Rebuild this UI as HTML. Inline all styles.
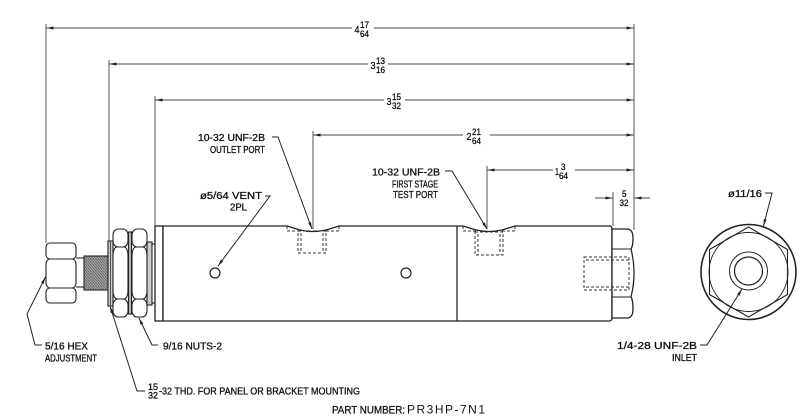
<!DOCTYPE html>
<html><head><meta charset="utf-8"><style>
html,body{margin:0;padding:0;background:#fff;}
svg{display:block;}
text{font-family:"Liberation Sans",sans-serif;fill:#111;}
.b text{stroke:#111;stroke-width:0.3;}
</style></head><body>
<svg width="800" height="418" viewBox="0 0 800 418" xmlns="http://www.w3.org/2000/svg">
<defs>
<marker id="a" markerUnits="userSpaceOnUse" markerWidth="8" markerHeight="4" refX="7" refY="1.5" orient="auto"><path d="M0,0 L7,1.5 L0,3 z" fill="#222"/></marker>
<pattern id="thr" width="2.5" height="3" patternUnits="userSpaceOnUse"><rect width="2.5" height="3" fill="#a8a8a8"/><line x1="0" y1="0" x2="2.5" y2="3" stroke="#555" stroke-width="0.8"/></pattern>
</defs>
<rect width="800" height="418" fill="#fff"/>

<!-- extension lines -->
<g stroke="#555" stroke-width="1" fill="none">
<line x1="46" y1="24" x2="46" y2="243"/>
<line x1="109" y1="60" x2="109" y2="241"/>
<line x1="155" y1="96" x2="155" y2="226"/>
<line x1="313" y1="131" x2="313" y2="229"/>
<line x1="487" y1="166" x2="487" y2="229"/>
<line x1="613" y1="192" x2="613" y2="226"/>
<line x1="634" y1="24" x2="634" y2="230"/>
</g>

<!-- dimension lines -->
<g stroke="#444" stroke-width="1" fill="none" marker-end="url(#a)">
<line x1="352" y1="28" x2="46.5" y2="28"/>
<line x1="374" y1="28" x2="633.5" y2="28"/>
<line x1="368" y1="64" x2="109.5" y2="64"/>
<line x1="388" y1="64" x2="633.5" y2="64"/>
<line x1="384" y1="100" x2="155.5" y2="100"/>
<line x1="405" y1="100" x2="633.5" y2="100"/>
<line x1="463" y1="135" x2="313.5" y2="135"/>
<line x1="490" y1="135" x2="633.5" y2="135"/>
<line x1="553" y1="170" x2="487.5" y2="170"/>
<line x1="575" y1="170" x2="633.5" y2="170"/>
<line x1="595" y1="198" x2="612.5" y2="198"/>
<line x1="650" y1="198" x2="634.5" y2="198"/>
</g>

<!-- dimension texts -->
<g class="b">
<text x="354.5" y="33" font-size="10" textLength="5" lengthAdjust="spacingAndGlyphs">4</text>
<text x="360" y="28" font-size="9" textLength="9" lengthAdjust="spacingAndGlyphs">17</text>
<text x="360" y="37" font-size="9" textLength="9" lengthAdjust="spacingAndGlyphs">64</text>

<text x="370.5" y="69" font-size="10" textLength="5" lengthAdjust="spacingAndGlyphs">3</text>
<text x="376" y="64" font-size="9" textLength="9" lengthAdjust="spacingAndGlyphs">13</text>
<text x="376" y="73" font-size="9" textLength="9" lengthAdjust="spacingAndGlyphs">16</text>

<text x="386.5" y="105" font-size="10" textLength="5" lengthAdjust="spacingAndGlyphs">3</text>
<text x="392" y="100" font-size="9" textLength="9" lengthAdjust="spacingAndGlyphs">15</text>
<text x="392" y="109" font-size="9" textLength="9" lengthAdjust="spacingAndGlyphs">32</text>

<text x="466.5" y="140" font-size="10" textLength="5" lengthAdjust="spacingAndGlyphs">2</text>
<text x="472" y="135" font-size="9" textLength="9" lengthAdjust="spacingAndGlyphs">21</text>
<text x="472" y="144" font-size="9" textLength="9" lengthAdjust="spacingAndGlyphs">64</text>

<text x="555" y="175" font-size="10" textLength="4" lengthAdjust="spacingAndGlyphs">1</text>
<text x="561" y="170" font-size="9" textLength="4.5" lengthAdjust="spacingAndGlyphs">3</text>
<text x="559" y="179" font-size="9" textLength="9" lengthAdjust="spacingAndGlyphs">64</text>

<text x="622" y="197" font-size="9" textLength="4.5" lengthAdjust="spacingAndGlyphs">5</text>
<text x="619.5" y="206" font-size="9" textLength="9" lengthAdjust="spacingAndGlyphs">32</text>
</g>

<!-- body -->
<g stroke="#222" stroke-width="1.3" fill="#fff">
<rect x="155" y="226" width="8" height="95"/>
<path d="M163,226 H287 L300,230 Q312,233 326,230 L339,226 H463 L476,230 Q489,233 502,230 L515,226 H610 Q612,226 612,229 V318 Q612,321 609,321 H163 Z"/>
<line x1="457" y1="226" x2="457" y2="321"/>
<path d="M612,229 H628 Q633,230 633,238 Q633,246 631,249 Q634,261 634,273 Q634,285 631,297 Q633,300 633,309 Q633,317 628,318 H612 Z"/>
<line x1="612" y1="249" x2="631" y2="249" stroke-width="1"/>
<line x1="612" y1="297" x2="631" y2="297" stroke-width="1"/>
<circle cx="215" cy="273" r="5" stroke-width="1.2"/>
<circle cx="406" cy="273" r="5" stroke-width="1.2"/>
</g>

<!-- dashed hidden lines -->
<g stroke="#333" stroke-width="1" fill="none" stroke-dasharray="3,2">
<path d="M287,226 V231 H300"/>
<path d="M339,226 V231 H326"/>
<rect x="298" y="231" width="28" height="22"/>
<line x1="301" y1="233" x2="301" y2="253"/>
<line x1="323" y1="233" x2="323" y2="253"/>
<path d="M463,226 V231 H476"/>
<path d="M515,226 V231 H502"/>
<rect x="475" y="232" width="28" height="23"/>
<line x1="478" y1="234" x2="478" y2="255"/>
<line x1="500" y1="234" x2="500" y2="255"/>
<rect x="584" y="257" width="45" height="33"/>
<line x1="586" y1="260" x2="629" y2="260"/>
<line x1="586" y1="287" x2="629" y2="287"/>
</g>

<!-- left assembly -->
<g stroke="#222" stroke-width="1.1" fill="#fff">
<rect x="46" y="243" width="30" height="16" rx="4" ry="4"/>
<rect x="46" y="259" width="30" height="29" rx="4" ry="5"/>
<rect x="46" y="288" width="30" height="15" rx="4" ry="4"/>
<line x1="76" y1="258" x2="84" y2="258"/>
<line x1="76" y1="287" x2="84" y2="287"/>
<rect x="84" y="256" width="24" height="34" fill="url(#thr)"/>
<rect x="108" y="241" width="5" height="65" fill="#ccc"/>
<line x1="110.5" y1="242" x2="110.5" y2="305" stroke-width="0.7"/>
<rect x="113" y="229" width="15" height="18" rx="5" ry="6"/>
<rect x="113" y="247" width="15" height="52" rx="4" ry="8"/>
<rect x="113" y="299" width="15" height="18" rx="5" ry="6"/>
<rect x="128.5" y="232" width="3" height="82" fill="#bbb"/>
<rect x="132" y="229" width="15" height="18" rx="5" ry="6"/>
<rect x="132" y="247" width="15" height="52" rx="4" ry="8"/>
<rect x="132" y="299" width="15" height="18" rx="5" ry="6"/>
<rect x="147" y="242" width="5" height="63" fill="#ccc"/>
<line x1="152" y1="244" x2="155" y2="244"/>
<line x1="152" y1="303" x2="155" y2="303"/>
</g>

<!-- right end view -->
<g stroke="#222" fill="none">
<circle cx="748.5" cy="272" r="47.5" stroke-width="1.6"/>
<polygon points="748.5,227 787.5,249.5 787.5,294.5 748.5,317 709.5,294.5 709.5,249.5" stroke-width="1.1"/>
<circle cx="748.5" cy="272" r="39.5" stroke-width="0.9"/>
<circle cx="748.5" cy="271" r="19" stroke-width="1"/>
<circle cx="748.5" cy="271" r="14" stroke-width="1.2"/>
</g>

<!-- leaders -->
<g stroke="#222" stroke-width="1" fill="none" marker-end="url(#a)">
<polyline points="272,137 278,137 312,229"/>
<polyline points="445,171 452,171 487,229"/>
<polyline points="265,196 270,196 218,266"/>
<polyline points="765,193 772,193 763.5,226"/>
<polyline points="700,345 707,345 742,289"/>
<polyline points="42,345 35,345 27,314 45.5,277"/>
<polyline points="158,345 152,345 139,318"/>
<polyline points="145,391 137,391 110,306"/>
</g>

<!-- labels -->
<g font-size="10" class="b">
<text x="265" y="141" text-anchor="end" textLength="67" lengthAdjust="spacingAndGlyphs">10-32 UNF-2B</text>
<text x="265" y="153" text-anchor="end" textLength="55" lengthAdjust="spacingAndGlyphs">OUTLET PORT</text>
<text x="262" y="199" text-anchor="end" textLength="62" lengthAdjust="spacingAndGlyphs">ø5/64 VENT</text>
<text x="247" y="210.5" text-anchor="end" textLength="17" lengthAdjust="spacingAndGlyphs">2PL</text>
<text x="440" y="175.5" text-anchor="end" textLength="68" lengthAdjust="spacingAndGlyphs">10-32 UNF-2B</text>
<text x="438" y="187.5" text-anchor="end" textLength="46" lengthAdjust="spacingAndGlyphs">FIRST STAGE</text>
<text x="438" y="198" text-anchor="end" textLength="45" lengthAdjust="spacingAndGlyphs">TEST PORT</text>
<text x="762" y="197" text-anchor="end" textLength="34" lengthAdjust="spacingAndGlyphs">ø11/16</text>
<text x="697" y="349" text-anchor="end" textLength="80" lengthAdjust="spacingAndGlyphs">1/4-28 UNF-2B</text>
<text x="697" y="361" text-anchor="end" textLength="25" lengthAdjust="spacingAndGlyphs">INLET</text>
<text x="45" y="349.5" textLength="43" lengthAdjust="spacingAndGlyphs">5/16 HEX</text>
<text x="45" y="361.5" textLength="52" lengthAdjust="spacingAndGlyphs">ADJUSTMENT</text>
<text x="163" y="349.5" textLength="59" lengthAdjust="spacingAndGlyphs">9/16 NUTS-2</text>
<text x="148" y="390" font-size="9" textLength="10" lengthAdjust="spacingAndGlyphs">15</text>
<text x="148" y="398.5" font-size="9" textLength="10" lengthAdjust="spacingAndGlyphs">32</text>
<text x="159" y="394.5" textLength="201" lengthAdjust="spacingAndGlyphs">-32 THD. FOR PANEL OR BRACKET MOUNTING</text>
<text x="332" y="413.5" font-size="11" textLength="73" lengthAdjust="spacingAndGlyphs">PART NUMBER:</text>
</g>
<text x="407" y="413.5" font-size="12" fill="#333" textLength="78" lengthAdjust="spacing">PR3HP-7N1</text>
</svg>
</body></html>
